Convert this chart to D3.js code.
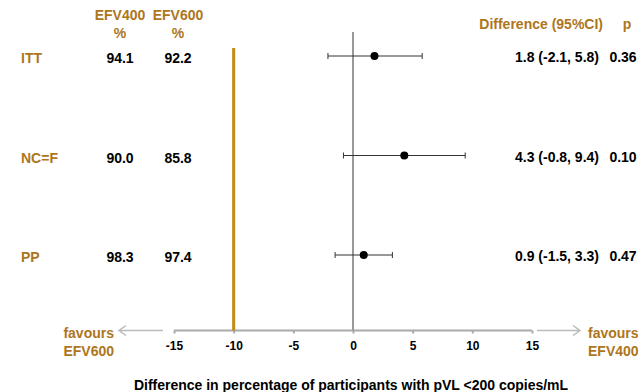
<!DOCTYPE html>
<html>
<head>
<meta charset="utf-8">
<script src="https://cdn.jsdelivr.net/npm/d3@7"></script>
<style>
  body { margin: 0; background: #fff; }
  text { font-family: "Liberation Sans", Arial, sans-serif; font-weight: bold; }
</style>
</head>
<body>
<div id="chart"></div>
<script>
// data
let groups = ["ITT", "NC=F", "PP"];
let efv400 = ["94.1", "90.0", "98.3"];
let efv600 = ["92.2", "85.8", "97.4"];
let diff = [1.8, 4.3, 0.9];
let ciLow = [-2.1, -0.8, -1.5];
let ciHigh = [5.8, 9.4, 3.3];
let pValues = ["0.36", "0.10", "0.47"];
let xTicks = [-15, -10, -5, 0, 5, 10, 15];
let margin = -10;

let width = 642, height = 392;
let brown = "#ad761c";

let svg = d3.select("#chart")
    .append("svg")
    .attr("width", width)
    .attr("height", height);

let x = d3.scaleLinear()
    .domain([-15, 15])
    .range([174, 532]);

let y = d3.scalePoint()
    .domain(groups)
    .range([56, 255]);

let axisY = 330.5;

// x axis (plain hyphen for negatives, as in the original)
let xAxis = svg.append("g")
    .attr("transform", "translate(0," + axisY + ")")
    .call(d3.axisBottom(x).tickValues(xTicks).tickSize(3).tickPadding(8).tickFormat(d => String(d)));
xAxis.select(".domain").attr("stroke", "#aaa").attr("stroke-width", 2)
    .attr("d", "M" + x(-15) + ",0H" + x(15));
xAxis.selectAll(".tick line").attr("stroke", "#aaa").attr("stroke-width", 2);
xAxis.selectAll(".tick text")
    .attr("fill", "#000")
    .style("font-size", "12px")
    .style("font-family", "'Liberation Sans', Arial, sans-serif")
    .style("font-weight", "bold");

// zero line and margin line
svg.append("line")
    .attr("x1", x(0)).attr("x2", x(0))
    .attr("y1", 32).attr("y2", axisY)
    .attr("stroke", "#999").attr("stroke-width", 2);

svg.append("line")
    .attr("x1", x(margin)).attr("x2", x(margin))
    .attr("y1", 48).attr("y2", axisY)
    .attr("stroke", "#c18a14").attr("stroke-width", 3);

// arrows
let arrow = svg.append("g").attr("stroke", "#bbb").attr("stroke-width", 1.5).attr("fill", "none");
arrow.append("path").attr("d", "M163," + axisY + "H119 M126," + (axisY - 5) + "L119," + axisY + "L126," + (axisY + 5));
arrow.append("path").attr("d", "M537," + axisY + "H580 M573," + (axisY - 5) + "L580," + axisY + "L573," + (axisY + 5));

// favours labels
let favLeft = svg.append("text").attr("fill", brown).style("font-size", "14px").attr("text-anchor", "end");
favLeft.append("tspan").attr("x", 114).attr("y", 338).text("favours");
favLeft.append("tspan").attr("x", 114).attr("y", 356).text("EFV600");
let favRight = svg.append("text").attr("fill", brown).style("font-size", "14px").attr("text-anchor", "start");
favRight.append("tspan").attr("x", 588).attr("y", 338).text("favours");
favRight.append("tspan").attr("x", 588).attr("y", 356).text("EFV400");

// axis title
svg.append("text")
    .attr("x", 351).attr("y", 390)
    .attr("text-anchor", "middle")
    .style("font-size", "14px")
    .attr("fill", "#000")
    .text("Difference in percentage of participants with pVL <200 copies/mL");

// column headers
let headers = svg.append("g").attr("fill", brown).style("font-size", "14px").attr("text-anchor", "middle");
headers.append("text").attr("x", 120).attr("y", 20).text("EFV400");
headers.append("text").attr("x", 120).attr("y", 38).text("%");
headers.append("text").attr("x", 178).attr("y", 20).text("EFV600");
headers.append("text").attr("x", 178).attr("y", 38).text("%");
headers.append("text").attr("x", 603).attr("y", 29).attr("text-anchor", "end").text("Difference (95%CI)");
headers.append("text").attr("x", 627).attr("y", 29).text("p");

// rows
let rows = svg.selectAll(".row")
    .data(groups)
    .enter()
    .append("g")
    .attr("class", "row");

rows.append("text")
    .attr("x", 21).attr("y", d => y(d) + 7)
    .attr("fill", brown).style("font-size", "14px")
    .text(d => d);

rows.append("text")
    .attr("x", 120).attr("y", d => y(d) + 7)
    .attr("text-anchor", "middle").style("font-size", "14px")
    .text((d, i) => efv400[i]);

rows.append("text")
    .attr("x", 178).attr("y", d => y(d) + 7)
    .attr("text-anchor", "middle").style("font-size", "14px")
    .text((d, i) => efv600[i]);

rows.append("text")
    .attr("x", 599).attr("y", d => y(d) + 6)
    .attr("text-anchor", "end").style("font-size", "14px")
    .text((d, i) => diff[i].toFixed(1) + " (" + ciLow[i].toFixed(1) + ", " + ciHigh[i].toFixed(1) + ")");

rows.append("text")
    .attr("x", 623).attr("y", d => y(d) + 6)
    .attr("text-anchor", "middle").style("font-size", "14px")
    .text((d, i) => pValues[i]);

// confidence intervals
rows.append("line")
    .attr("x1", (d, i) => x(ciLow[i])).attr("x2", (d, i) => x(ciHigh[i]))
    .attr("y1", d => y(d)).attr("y2", d => y(d))
    .attr("stroke", "#333").attr("stroke-width", 1);
rows.append("line")
    .attr("x1", (d, i) => x(ciLow[i])).attr("x2", (d, i) => x(ciLow[i]))
    .attr("y1", d => y(d) - 3).attr("y2", d => y(d) + 3)
    .attr("stroke", "#333").attr("stroke-width", 1);
rows.append("line")
    .attr("x1", (d, i) => x(ciHigh[i])).attr("x2", (d, i) => x(ciHigh[i]))
    .attr("y1", d => y(d) - 3).attr("y2", d => y(d) + 3)
    .attr("stroke", "#333").attr("stroke-width", 1);
rows.append("circle")
    .attr("cx", (d, i) => x(diff[i])).attr("cy", d => y(d))
    .attr("r", 4)
    .attr("fill", "#000");
</script>
</body>
</html>
